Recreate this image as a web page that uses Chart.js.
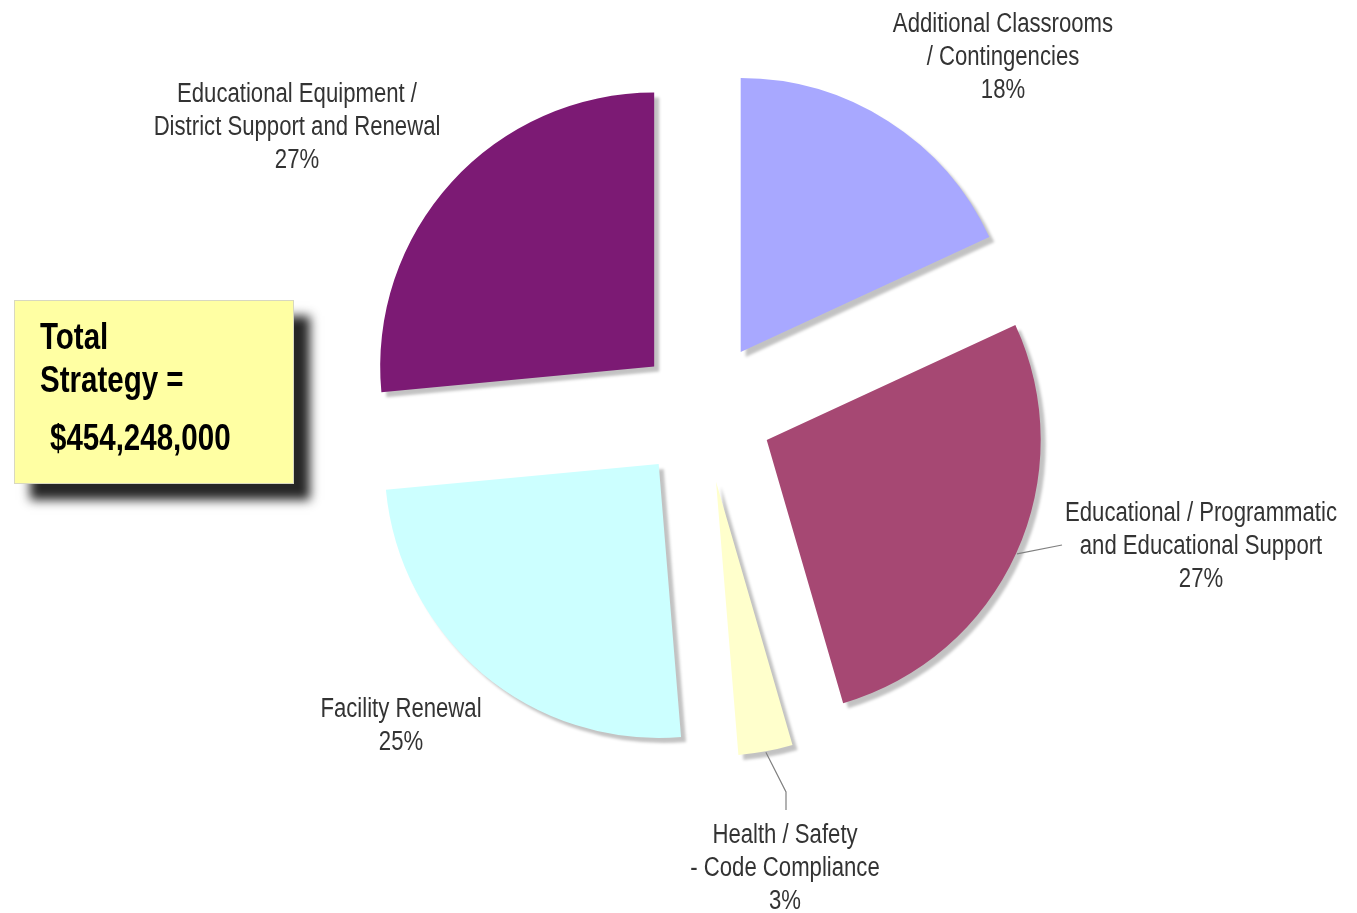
<!DOCTYPE html>
<html>
<head>
<meta charset="utf-8">
<script src="https://cdn.jsdelivr.net/npm/chart.js@4/dist/chart.umd.min.js"></script>
<style>
  html, body { margin: 0; padding: 0; background: #ffffff; }
  #wrap { position: relative; width: 1357px; height: 913px; }
  canvas { display: block; }
</style>
</head>
<body>
<div id="wrap"><canvas id="c" width="1357" height="913"></canvas></div>
<script>
// ---- data ----
const categories = [
  ["Additional Classrooms", "/ Contingencies"],
  ["Educational / Programmatic", "and Educational Support"],
  ["Health / Safety", "- Code Compliance"],
  ["Facility Renewal"],
  ["Educational Equipment /", "District Support and Renewal"]
];
// slice shares (labels show them rounded)
const shares = [18.1, 27.4, 3.2, 24.8, 26.5];
const totalLines = ["Total", "Strategy =", "$454,248,000"];

// ---- styles / placement ----
const sliceColors = ["#a8a8ff", "#a64873", "#ffffcc", "#ccffff", "#7c1a74"];
const explode = [70, 70, 72, 69, 66];   // px each slice is pulled out
const pieRadius = 274;
// label block centre, relative to pie centre
const labelPos = [
  {dx: 300, dy: -356},
  {dx: 498, dy: 133},
  {dx: 82, dy: 455},
  {dx: -302, dy: 312},
  {dx: -406, dy: -286}
];
// leader polylines (points relative to pie centre), starting at slice edge
const leaders = [
  null,
  [{dx: 359, dy: 134}],
  [{dx: 83, dy: 381}, {dx: 83, dy: 399}],
  null,
  null
];

const NARROW = 0.82;
function narrowText(ctx, text, x, y) {
  ctx.save();
  ctx.translate(x, y);
  ctx.scale(NARROW, 1);
  ctx.fillText(text, 0, 0);
  ctx.restore();
}

const explodePlugin = {
  id: 'explode',
  afterDatasetUpdate(chart, args) {
    args.meta.data.forEach((arc, i) => {
      const mid = (arc.startAngle + arc.endAngle) / 2;
      arc.x += Math.cos(mid) * explode[i];
      arc.y += Math.sin(mid) * explode[i];
    });
  }
};

const shadowPlugin = {
  id: 'sliceShadow',
  beforeDatasetsDraw(chart) {
    const ctx = chart.ctx;
    ctx.save();
    ctx.shadowColor = 'rgba(0,0,0,0.24)';
    ctx.shadowOffsetX = 5;
    ctx.shadowOffsetY = 5;
    ctx.shadowBlur = 3;
  },
  afterDatasetsDraw(chart) {
    chart.ctx.restore();
  }
};

const labelPlugin = {
  id: 'labels',
  afterDraw(chart) {
    const ctx = chart.ctx;
    const area = chart.chartArea;
    const cx = (area.left + area.right) / 2;
    const cy = (area.top + area.bottom) / 2;
    const arcs = chart.getDatasetMeta(0).data;

    // leader lines
    ctx.save();
    ctx.strokeStyle = '#808080';
    ctx.lineWidth = 1.2;
    leaders.forEach((pts, i) => {
      if (!pts) return;
      const arc = arcs[i];
      const mid = (arc.startAngle + arc.endAngle) / 2;
      ctx.beginPath();
      ctx.moveTo(arc.x + Math.cos(mid) * (arc.outerRadius + 1), arc.y + Math.sin(mid) * (arc.outerRadius + 1));
      pts.forEach(p => ctx.lineTo(cx + p.dx, cy + p.dy));
      ctx.stroke();
    });
    ctx.restore();

    // labels
    ctx.save();
    ctx.fillStyle = '#333333';
    ctx.font = '27px "Liberation Sans", Arial, sans-serif';
    ctx.textAlign = 'center';
    ctx.textBaseline = 'alphabetic';
    const lh = 33;
    categories.forEach((cat, i) => {
      const lines = cat.concat([Math.round(shares[i]) + '%']);
      const x = cx + labelPos[i].dx;
      const y0 = cy + labelPos[i].dy;
      lines.forEach((t, k) => {
        const y = y0 + (k - (lines.length - 1) / 2) * lh + 10;
        narrowText(ctx, t, x, y);
      });
    });
    ctx.restore();

    // total box
    ctx.save();
    const bx = 14, by = 300, bw = 280, bh = 184;
    ctx.shadowColor = 'rgba(0,0,0,0.85)';
    ctx.shadowOffsetX = 16;
    ctx.shadowOffsetY = 16;
    ctx.shadowBlur = 10;
    ctx.fillStyle = '#ffffa3';
    ctx.fillRect(bx, by, bw, bh);
    ctx.restore();
    ctx.save();
    ctx.strokeStyle = '#d8d8c0';
    ctx.lineWidth = 1;
    ctx.strokeRect(bx + 0.5, by + 0.5, bw - 1, bh - 1);
    ctx.fillStyle = '#000000';
    ctx.font = 'bold 36px "Liberation Sans", Arial, sans-serif';
    ctx.textAlign = 'left';
    ctx.textBaseline = 'alphabetic';
    const boxText = [
      {x: bx + 26, y: by + 49},
      {x: bx + 26, y: by + 92},
      {x: bx + 36, y: by + 150}
    ];
    totalLines.forEach((t, k) => narrowText(ctx, t, boxText[k].x, boxText[k].y));
    ctx.restore();
  }
};

new Chart(document.getElementById('c'), {
  type: 'pie',
  data: {
    labels: categories.map(c => c.join(' ')),
    datasets: [{
      data: shares,
      backgroundColor: sliceColors,
      borderWidth: 0,
      offset: 0
    }]
  },
  options: {
    responsive: false,
    animation: false,
    events: [],
    radius: pieRadius,
    layout: { padding: { left: 100, right: 51, top: 0, bottom: 91 } },
    plugins: {
      legend: { display: false },
      tooltip: { enabled: false },
      title: { display: false }
    }
  },
  plugins: [explodePlugin, shadowPlugin, labelPlugin]
});
</script>
</body>
</html>
